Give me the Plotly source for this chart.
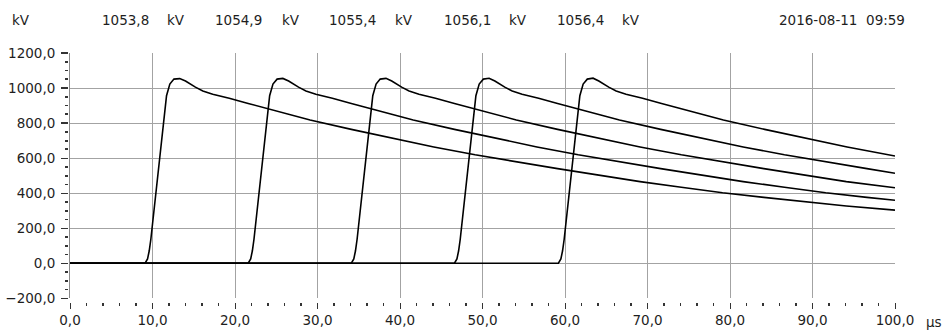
import plotly.graph_objects as go

# ---------------- data ----------------
PEAKS = [1053.8, 1054.9, 1055.4, 1056.1, 1056.4]   # kV, header values
TIMESTAMP = "2016-08-11  09:59"
UNIT_Y = "kV"
UNIT_X = "µs"

# impulse 1
X1 = [0, 9.1, 9.4, 9.6, 9.8, 10.2, 10.6, 11.0, 11.4, 11.7, 12.1, 12.6, 13.3, 14.0, 15.2, 16.1, 17.3, 19.3,
      21.6, 24.1, 29.1, 34.1, 39.1, 44.1, 49.1, 54.1, 59.1, 64.1, 69.1, 74.1, 79.1, 84.1, 89.1, 94.1, 100]
Y1 = [0, 0, 25, 70, 137, 309, 518, 690, 851, 956, 1023, 1051, 1053.8, 1040, 1005, 983, 964, 942,
      912, 880, 818, 764, 713, 664, 619, 578, 540, 503, 466, 434, 402, 376, 350, 327, 303]
# impulse 2
X2 = [0, 21.6, 21.9, 22.1, 22.3, 22.7, 23.1, 23.5, 23.9, 24.2, 24.6, 25.1, 25.8, 26.5, 27.7, 28.6, 29.8, 31.8,
      34.1, 36.6, 41.6, 46.6, 51.6, 56.6, 61.6, 66.6, 71.6, 76.6, 81.6, 86.6, 91.6, 96.6, 100]
Y2 = [0, 0, 25, 70, 137, 309, 518, 690, 851, 956, 1023, 1051, 1054.9, 1040, 1005, 983, 964, 942,
      912, 880, 818, 764, 713, 664, 619, 578, 540, 503, 466, 434, 402, 376, 360]
# impulse 3
X3 = [0, 34.1, 34.4, 34.6, 34.8, 35.2, 35.6, 36.0, 36.4, 36.7, 37.1, 37.6, 38.3, 39.0, 40.2, 41.1, 42.3, 44.3,
      46.6, 49.1, 54.1, 59.1, 64.1, 69.1, 74.1, 79.1, 84.1, 89.1, 94.1, 100]
Y3 = [0, 0, 25, 70, 137, 309, 518, 690, 851, 956, 1023, 1051, 1055.4, 1040, 1005, 983, 964, 942,
      912, 880, 818, 764, 713, 664, 619, 578, 540, 503, 466, 431]
# impulse 4
X4 = [0, 46.6, 46.9, 47.1, 47.3, 47.7, 48.1, 48.5, 48.9, 49.2, 49.6, 50.1, 50.8, 51.5, 52.7, 53.6, 54.8, 56.8,
      59.1, 61.6, 66.6, 71.6, 76.6, 81.6, 86.6, 91.6, 96.6, 100]
Y4 = [0, 0, 25, 70, 137, 309, 518, 690, 851, 956, 1023, 1051, 1056.1, 1040, 1005, 983, 964, 942,
      912, 880, 818, 764, 713, 664, 619, 578, 540, 514]
# impulse 5
X5 = [0, 59.2, 59.5, 59.7, 59.9, 60.3, 60.7, 61.1, 61.5, 61.8, 62.2, 62.7, 63.4, 64.1, 65.3, 66.2, 67.4, 69.4,
      71.7, 74.2, 79.2, 84.2, 89.2, 94.2, 100]
Y5 = [0, 0, 25, 70, 137, 309, 518, 690, 851, 956, 1023, 1051, 1056.4, 1040, 1005, 983, 964, 942,
      912, 880, 818, 764, 713, 664, 612]

SERIES = [(X1, Y1), (X2, Y2), (X3, Y3), (X4, Y4), (X5, Y5)]

X_RANGE = [0, 100]
Y_RANGE = [-200, 1200]
X_GRID = [10, 20, 30, 40, 50, 60, 70, 80, 90]
Y_GRID = [0, 200, 400, 600, 800, 1000, 1200]

# ---------------- layout geometry (pixels) ----------------
W, H = 944, 336
ML, MR, MT, MB = 68, 49, 53, 34
PW, PH = W - ML - MR, H - MT - MB
X_DOM0 = (70 - ML) / PW
Y_DOM0 = ((H - MB) - 298.3) / PH

def px(xp):
    return (xp - ML) / PW

def py(yp):
    return ((H - MB) - yp) / PH

FONT = "DejaVu Sans"
TXT = "#1e1e1e"
GRID = "#a3a3a3"
TICK = "#333333"

fig = go.Figure()
for xs, ys in SERIES:
    fig.add_trace(go.Scatter(x=xs, y=ys, mode="lines",
                             line=dict(color="#000000", width=1.6),
                             hoverinfo="skip", showlegend=False))

# an invisible trace on the label axes so they render
fig.add_trace(go.Scatter(x=[X_RANGE[0]], y=[Y_RANGE[0]], xaxis="x2", yaxis="y2",
                         mode="markers", marker=dict(opacity=0), showlegend=False,
                         hoverinfo="skip"))

fig.update_layout(
    width=W, height=H,
    margin=dict(l=ML, r=MR, t=MT, b=MB, pad=0, autoexpand=False),
    paper_bgcolor="white", plot_bgcolor="white",
    separators=",.",
    font=dict(family=FONT, size=13.5, color=TXT),
    showlegend=False,
    xaxis=dict(domain=[X_DOM0, 1], range=X_RANGE, anchor="y",
               tickvals=X_GRID, showticklabels=False, ticks="",
               showgrid=True, gridcolor=GRID, gridwidth=1,
               zeroline=False, showline=False, fixedrange=True),
    yaxis=dict(domain=[Y_DOM0, 1], range=Y_RANGE, anchor="x",
               tickvals=Y_GRID, showticklabels=False, ticks="",
               showgrid=True, gridcolor=GRID, gridwidth=1,
               zeroline=False, showline=True, linecolor="#8a8a8a", linewidth=1,
               fixedrange=True),
    xaxis2=dict(overlaying="x", anchor="free", position=0, range=X_RANGE,
                tick0=0, dtick=10, tickformat=".1f",
                ticks="outside", ticklen=6, tickwidth=1, tickcolor=TICK,
                minor=dict(dtick=2, ticks="outside", ticklen=3, tickwidth=1.5, tickcolor=TICK),
                showgrid=False, zeroline=False, showline=False,
                tickfont=dict(family=FONT, size=13.5, color=TXT), fixedrange=True),
    yaxis2=dict(overlaying="y", anchor="free", position=0, side="left", range=Y_RANGE,
                tick0=0, dtick=200, tickformat=".1f",
                ticks="outside", ticklen=7, tickwidth=1.2, tickcolor=TICK,
                ticklabelstandoff=3,
                minor=dict(dtick=50, ticks="outside", ticklen=3.5, tickwidth=1.8, tickcolor=TICK),
                showgrid=False, zeroline=False, showline=False,
                tickfont=dict(family=FONT, size=13.5, color=TXT), fixedrange=True),
)

# ---------------- header texts ----------------
hy = py(19.5)
ann = [(10, UNIT_Y)]
value_x = [100, 213, 327, 441.5, 555]
unit_x = [165, 280, 393, 506.5, 620]
for vx, ux, p in zip(value_x, unit_x, PEAKS):
    ann.append((vx, f"{p:.1f}".replace(".", ",")))
    ann.append((ux, UNIT_Y))
for x0, t in ann:
    fig.add_annotation(text=t, x=px(x0), y=hy, xref="paper", yref="paper",
                       xanchor="left", yanchor="middle", showarrow=False,
                       font=dict(family=FONT, size=13.5, color=TXT))
fig.add_annotation(text=TIMESTAMP.replace(" ", "&nbsp;"), x=px(907), y=hy, xref="paper", yref="paper",
                   xanchor="right", yanchor="middle", showarrow=False,
                   font=dict(family=FONT, size=13.5, color=TXT))
fig.add_annotation(text=UNIT_X, x=px(924), y=py(321.5), xref="paper", yref="paper",
                   xanchor="left", yanchor="middle", showarrow=False,
                   font=dict(family=FONT, size=13.5, color=TXT))

fig.write_html("out.html",
               config=dict(displayModeBar=False, staticPlot=True),
               post_script="document.body.style.margin='0px';document.body.style.overflow='hidden';")
